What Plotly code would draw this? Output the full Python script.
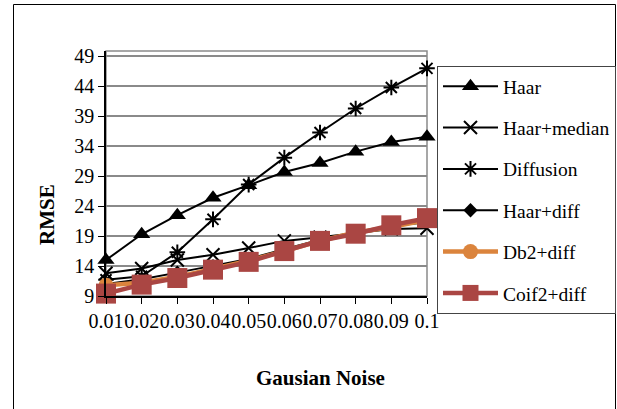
import plotly.graph_objects as go

categories = ["0.01", "0.02", "0.03", "0.04", "0.05", "0.06", "0.07", "0.08", "0.09", "0.1"]
haar = [15.0, 19.3, 22.5, 25.4, 27.5, 29.7, 31.2, 33.1, 34.7, 35.6]
haar_median = [12.8, 13.6, 15.0, 15.9, 17.0, 18.2, 18.8, 19.5, 20.2, 20.3]
diffusion = [11.7, 12.3, 16.3, 21.8, 27.6, 32.1, 36.3, 40.3, 43.8, 47.0]
haar_diff = [11.0, 11.8, 12.9, 14.0, 15.2, 16.8, 18.4, 19.7, 20.7, 21.3]
db2_diff = [10.8, 11.2, 12.2, 13.6, 14.9, 16.5, 18.2, 19.6, 20.5, 21.7]
coif2_diff = [9.4, 10.9, 12.0, 13.4, 14.7, 16.5, 18.2, 19.4, 20.8, 22.0]
y_ticks = [9, 14, 19, 24, 29, 34, 39, 44, 49]

FONT = "Liberation Serif"

series = [
    ("Haar", haar, "black", 2, dict(symbol="triangle-up", size=15, color="black")),
    ("Haar+median", haar_median, "black", 2,
     dict(symbol="x-thin", size=13, color="black", line=dict(color="black", width=2))),
    ("Diffusion", diffusion, "black", 2,
     dict(symbol="asterisk", size=13, color="black", line=dict(color="black", width=2))),
    ("Haar+diff", haar_diff, "black", 2, dict(symbol="diamond", size=11, color="black")),
    ("Db2+diff", db2_diff, "#DB843D", 4.5, dict(symbol="circle", size=15, color="#DB843D")),
    ("Coif2+diff", coif2_diff, "#AA4643", 4.5, dict(symbol="square", size=20, color="#AA4643")),
]

fig = go.Figure()
for i, (name, vals, col, w, mk) in enumerate(series):
    fig.add_trace(go.Scatter(
        x=list(range(len(categories))), y=vals, name=name, mode="lines+markers",
        line=dict(color=col, width=w), marker=mk, cliponaxis=False,
        legendgroup=f"g{i}",
    ))

L, R, T, B = 106, 190, 51, 113
W, H = 617, 409
pw, ph = W - L - R, H - T - B

def px(x):
    return (x - L) / pw

def py(y):
    return 1 - (y - T) / ph

fig.update_layout(
    width=W, height=H,
    margin=dict(l=L, r=R, t=T, b=B, autoexpand=False),
    paper_bgcolor="white", plot_bgcolor="white",
    font=dict(family=FONT, color="black", size=19),
    showlegend=True,
    legend=dict(
        x=px(437), y=py(66), xanchor="left", yanchor="top",
        bordercolor="#444", borderwidth=1, bgcolor="white",
        font=dict(family=FONT, size=19.5, color="black"),
        tracegroupgap=13, itemwidth=55, maxheight=400,
    ),
    xaxis=dict(
        range=[0, len(categories) - 1],
        tickmode="array", tickvals=list(range(len(categories))), ticktext=categories,
        tickangle=0, showgrid=False, zeroline=False, automargin=False,
        showline=True, linecolor="black", linewidth=1.5,
        ticks="outside", ticklen=6, tickcolor="black", tickwidth=1,
        tickfont=dict(family=FONT, size=20, color="black"),
    ),
    yaxis=dict(
        range=[9, 49.9], tickmode="array", tickvals=y_ticks, automargin=False,
        showgrid=True, gridcolor="#8a8a8a", gridwidth=1.5, zeroline=False,
        showline=True, linecolor="black", linewidth=1.5,
        ticks="outside", ticklen=6, tickcolor="black", tickwidth=1,
        tickfont=dict(family=FONT, size=20, color="black"),
    ),
    shapes=[
        dict(type="rect", xref="paper", yref="paper", x0=0, x1=1, y0=0, y1=1,
             line=dict(color="#8a8a8a", width=1.5), layer="below"),
        dict(type="rect", xref="paper", yref="paper",
             x0=px(13.5), x1=px(615.5), y0=py(420), y1=py(4.5),
             line=dict(color="black", width=1)),
    ],
    annotations=[
        dict(text="<b>RMSE</b>", xref="paper", yref="paper", x=px(47), y=py(215),
             xanchor="center", yanchor="middle",
             showarrow=False, textangle=-90, font=dict(family=FONT, size=21, color="black")),
        dict(text="<b>Gausian Noise</b>", xref="paper", yref="paper", x=px(320), y=py(378),
             xanchor="center", yanchor="middle",
             showarrow=False, font=dict(family=FONT, size=21, color="black")),
    ],
)

fig.write_html("out.html")
